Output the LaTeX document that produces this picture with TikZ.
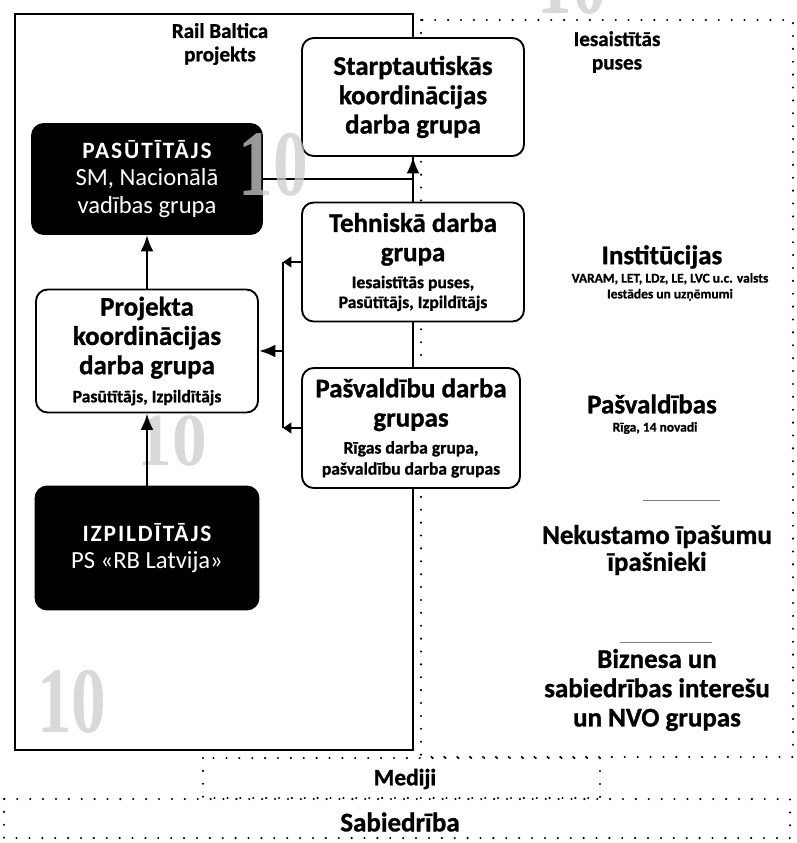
\documentclass[tikz,border=0pt]{standalone}
\usepackage{fontspec}
\setmainfont{Carlito}[BoldFeatures={FakeBold=1}]
\newfontfamily\capsfont[LetterSpace=8]{Carlito}
\newfontfamily\wmfont{Liberation Serif}
\usetikzlibrary{arrows.meta}

\newcommand{\ttl}{\fontsize{23}{25}\selectfont\bfseries}
\newcommand{\sml}{\fontsize{15}{17}\selectfont\bfseries}
\newcommand{\pln}{\fontsize{21}{23.5}\selectfont}
\newcommand{\capsb}{\capsfont\bfseries\fontsize{20}{23.5}\selectfont}
\newcommand{\lbl}{\fontsize{18}{20}\selectfont\bfseries}
\newcommand{\xs}{\fontsize{11.5}{13.5}\selectfont\bfseries}

\tikzset{
  grp/.style={draw, line width=1.6pt, rounded corners=10pt, fill=white, align=center, inner sep=0pt, font=\ttl},
  dark/.style={grp, fill=black, text=white, font=\pln},
  conn/.style={line width=2.2pt},
  arr/.style={conn, -{Latex[length=14pt,width=11pt]}},
  flag/.style={conn, -{Triangle[length=7pt,width=9pt]}},
  dots/.style={line width=2pt, dash pattern=on 0pt off 11pt, line cap=round},
  wmark/.style={font=\wmfont\bfseries\fontsize{80}{80}\selectfont, text=black!20, opacity=0.75, inner sep=0pt},
  lab/.style={align=center, inner sep=0pt},
}

\begin{document}
\begin{tikzpicture}[x=0.03cm, y=-0.03cm]
\useasboundingbox (0,0) rectangle (797,843);
\clip (0,0) rectangle (797,843);
% watermarks under the boxes
\node[wmark] (wm2) at (172,441) {\scalebox{0.74}[0.8]{10}};
\node[wmark] (wm3) at (72,702) {\scalebox{0.74}[1]{10}};
\node[wmark] (wm4) at (572,-17) {\scalebox{0.74}[1]{10}};
% frames
\draw[dots] (421,20) rectangle (793,757);
\draw[line width=1.6pt] (15,14) rectangle (413,750);
\draw[dots] (203,758) rectangle (600,798);
\draw[dots] (4,799) rectangle (790,838);
\node[lab, font=\lbl] (rb) at (220,44) {Rail Baltica\\projekts};
\node[lab, font=\lbl] (ip) at (617,52) {Iesaistītās\\puses};
% work groups
\node[grp, minimum width=6.66cm, minimum height=3.54cm] (stk) at (413,97) {Starptautiskās\\koordinācijas\\darba grupa};
\node[dark, minimum width=6.9cm, minimum height=3.3cm] (pas) at (147,179) {{\capsb PASŪTĪTĀJS}\\SM, Nacionālā\\vadības grupa};
\node[grp, minimum width=6.66cm, minimum height=3.57cm] (teh) at (413,262) {Tehniskā darba\\grupa\\[-2pt]{\sml Iesaistītās puses,}\\[-8pt]{\sml Pasūtītājs, Izpildītājs}};
\node[grp, minimum width=6.66cm, minimum height=3.69cm] (prj) at (147,351) {Projekta\\koordinācijas\\darba grupa\\[-1pt]{\sml Pasūtītājs, Izpildītājs}};
\node[grp, minimum width=6.54cm, minimum height=3.6cm] (pasv) at (411,428) {Pašvaldību darba\\grupas\\[-2pt]{\sml Rīgas darba grupa,}\\[-7pt]{\sml pašvaldību darba grupas}};
\node[dark, minimum width=6.69cm, minimum height=3.69cm] (izp) at (147,548) {{\capsb IZPILDĪTĀJS}\\PS «RB Latvija»};
% parties
\node[lab, font=\ttl] (inst) at (662,257) {Institūcijas};
\node[lab, font=\xs] (instd) at (670,287) {VARAM, LET, LDz, LE, LVC u.c. valsts\\Iestādes un uzņēmumi};
\node[lab, font=\ttl] (pvr) at (652,404) {Pašvaldības};
\node[lab, font=\xs] (pvrd) at (655,428) {Rīga, 14 novadi};
\node[lab, font=\ttl] (nip) at (657,550) {Nekustamo īpašumu\\[-2pt]īpašnieki};
\node[lab, font=\ttl] (biz) at (657,690) {Biznesa un\\sabiedrības interešu\\un NVO grupas};
\node[lab, font=\fontsize{20}{22}\selectfont\bfseries] (med) at (405,779) {Mediji};
\node[lab, font=\ttl] (sab) at (400,822) {Sabiedrība};
\draw[gray, line width=0.8pt] (643,500) -- (720,500);
\draw[gray, line width=0.8pt] (620,642) -- (712,642);
% connectors
\draw[arr] (izp.north) -- (prj.south);
\draw[arr] (prj.north) -- (pas.south);
\draw[arr] (pas.east) -| (stk.south);
\draw[conn] (teh.north) -- (teh.north |- pas.east);
\path (teh.west) ++(-18,0) coordinate (tj);
\coordinate (bj) at (tj |- pasv.west);
\coordinate (mj) at (tj |- prj.east);
\draw[flag] (teh.west) -- (tj);
\draw[flag] (pasv.west) -- (bj);
\draw[conn] (tj) -- (bj);
\draw[arr] (mj) -- (prj.east);
% watermark over the dark box
\node[wmark] (wm1) at (273,165) {\scalebox{0.74}[1]{10}};
\end{tikzpicture}
\end{document}
